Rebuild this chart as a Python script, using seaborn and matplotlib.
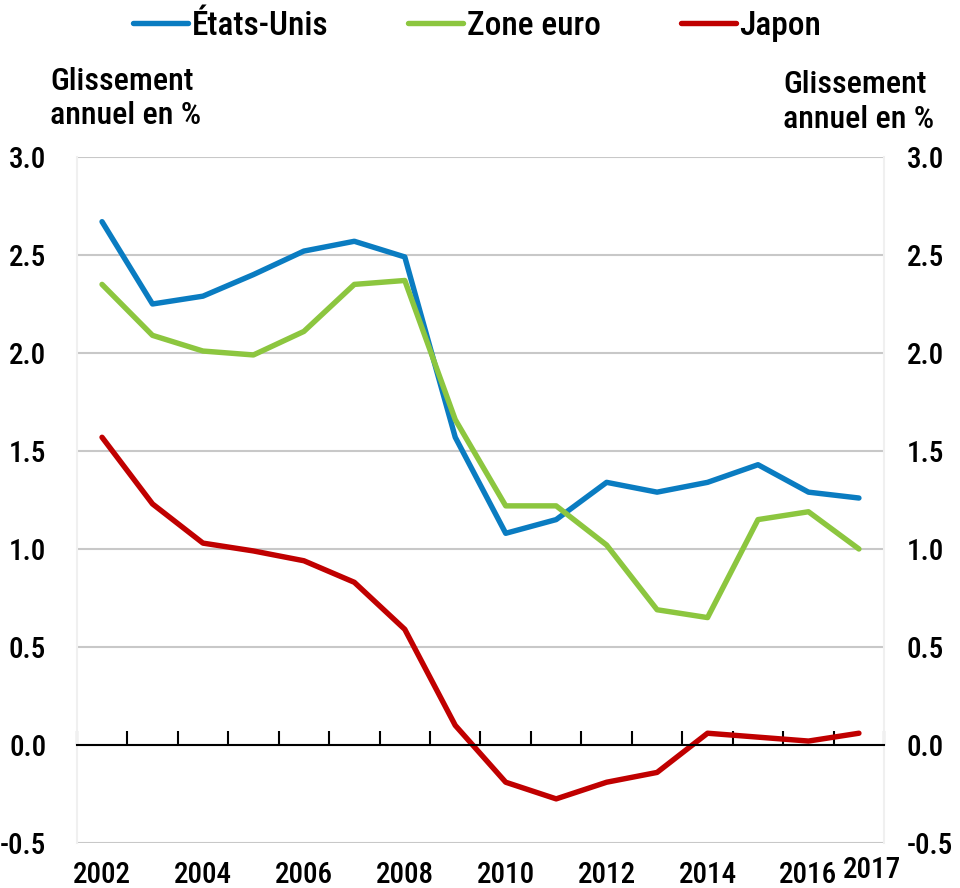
import numpy as np
import pandas as pd
import matplotlib
matplotlib.use("Agg")
import matplotlib.pyplot as plt
from matplotlib import font_manager
import seaborn as sb


years = list(range(2002, 2018))
etats_unis = [2.67, 2.25, 2.29, 2.40, 2.52, 2.57, 2.49, 1.57, 1.08, 1.15, 1.34, 1.29, 1.34, 1.43, 1.29, 1.26]
zone_euro = [2.35, 2.09, 2.01, 1.99, 2.11, 2.35, 2.37, 1.66, 1.22, 1.22, 1.02, 0.69, 0.65, 1.15, 1.19, 1.00]
japon = [1.57, 1.23, 1.03, 0.99, 0.94, 0.83, 0.59, 0.10, -0.19, -0.275, -0.19, -0.14, 0.06, 0.04, 0.02, 0.06]

series_names = ["États-Unis", "Zone euro", "Japon"]
colors = ["#0a7cc1", "#8cc63f", "#c00000"]
y_ticks = [-0.5, 0.0, 0.5, 1.0, 1.5, 2.0, 2.5, 3.0]
x_labels = [2002, 2004, 2006, 2008, 2010, 2012, 2014, 2016]


df = pd.DataFrame({
    "year": years * 3,
    "value": etats_unis + zone_euro + japon,
    "serie": [series_names[0]] * 16 + [series_names[1]] * 16 + [series_names[2]] * 16,
})

# pick a narrow font if there is one
installed = {f.name for f in font_manager.fontManager.ttflist}
font_name = 'Liberation Sans'
for cand in ['Liberation Sans Narrow', 'Roboto Condensed', 'Open Sans Condensed', 'DejaVu Sans Condensed']:
    if cand in installed:
        font_name = cand
        break

sb.set_style("white")
plt.rcParams['font.family'] = [font_name, 'DejaVu Sans']
plt.rcParams['font.weight'] = 'medium'
plt.rcParams['text.color'] = 'black'
plt.rcParams['xtick.color'] = 'black'
plt.rcParams['ytick.color'] = 'black'

fig = plt.figure(figsize=(9.6, 8.88), dpi=100)
ax = fig.add_axes([0.080, 0.0507, 0.841, 0.7725])

sb.lineplot(data=df, x="year", y="value", hue="serie", palette=colors,
            linewidth=3.9, ax=ax, legend=True)

ax.set_xlim(2001.5, 2017.5)
ax.set_ylim(-0.5, 3.0)
ax.set_yticks(y_ticks)
ax.set_yticklabels([f"{v:.1f}" for v in y_ticks], fontsize=21)
ax.tick_params(axis='y', length=0, pad=22)
ax.yaxis.grid(True, color='#c8c8c8', linewidth=1.5)
ax.set_axisbelow(True)
ax.set_xlabel("")
ax.set_ylabel("")

ax.spines["top"].set_visible(False)
for s in ["left", "right"]:
    ax.spines[s].set_color("#f0f0f0")
    ax.spines[s].set_linewidth(1.5)
ax.spines["bottom"].set_position(("data", 0))
ax.spines["bottom"].set_color("black")
ax.spines["bottom"].set_linewidth(1.5)
ax.set_xticks([])
ax.set_xticks(np.arange(2001.5, 2018, 1.0), minor=True)
ax.tick_params(axis='x', which='minor', bottom=True, direction='in', length=10, width=1.5,
               color='black', labelbottom=False)

# year labels at the bottom of the plot area
sec = ax.secondary_xaxis(location=0)
sec.set_xticks(x_labels)
sec.set_xticklabels([str(y) for y in x_labels], fontsize=21)
sec.tick_params(length=0, pad=13)
sec.spines["bottom"].set_visible(False)

sec2 = ax.secondary_xaxis(location=0)
sec2.set_xticks([2017.25])
sec2.set_xticklabels(["2017"], fontsize=21)
sec2.tick_params(length=0, pad=9.5)
sec2.spines["bottom"].set_visible(False)

# right axis, same scale
ax2 = ax.twinx()
ax2.set_ylim(-0.5, 3.0)
ax2.set_yticks(y_ticks)
ax2.set_yticklabels([f"{v:.1f}" for v in y_ticks], fontsize=21)
ax2.tick_params(axis='y', length=0, pad=16)
for s in ["top", "left", "right", "bottom"]:
    ax2.spines[s].set_visible(False)

fig.text(0.052, 0.925, "Glissement\nannuel en %", fontsize=23, ha='left', va='top',
         linespacing=1.25)
fig.text(0.816, 0.921, "Glissement\nannuel en %", fontsize=23, ha='left', va='top',
         linespacing=1.25)

handles, labels = ax.get_legend_handles_labels()
ax.get_legend().remove()
fig.legend(handles, labels, loc='center', bbox_to_anchor=(0.497, 0.971), ncol=3,
           frameon=False, fontsize=24, handlelength=1.65, handletextpad=0.1,
           columnspacing=2.4)

plt.savefig("out.png", dpi=100)
